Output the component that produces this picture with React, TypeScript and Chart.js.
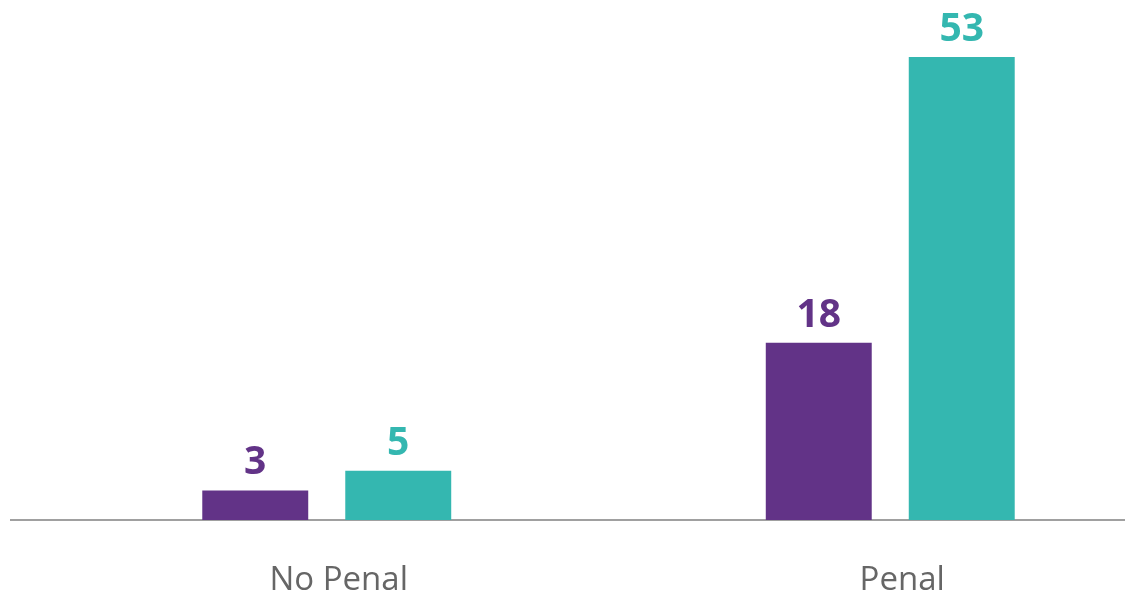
import React, { useEffect, useRef } from "react";
import { Chart, registerables } from "chart.js";

Chart.register(...registerables);

const categories = ["No Penal", "Penal"];
const seriesA = [3, 18];
const seriesB = [5, 53];
const colorA = "#623387";
const colorB = "#34b7b0";
const yMax = 47;

const valueLabels = {
  id: "valueLabels",
  afterDatasetsDraw(chart: any) {
    const { ctx, chartArea } = chart;
    ctx.save();
    ctx.font = "bold 39px 'Open Sans'";
    ctx.textAlign = "center";
    ctx.textBaseline = "alphabetic";
    chart.data.datasets.forEach((ds: any, di: number) => {
      const meta = chart.getDatasetMeta(di);
      meta.data.forEach((bar: any, i: number) => {
        const top = Math.max(bar.y, chartArea.top);
        ctx.fillStyle = ds.backgroundColor;
        ctx.fillText(String(ds.data[i]), bar.x, top - 16);
      });
    });
    ctx.restore();
  },
};

const baseLine = {
  id: "baseLine",
  beforeDatasetsDraw(chart: any) {
    const { ctx, chartArea, scales } = chart;
    const y = scales.y.getPixelForValue(0);
    ctx.save();
    ctx.strokeStyle = "#a0a0a0";
    ctx.lineWidth = 2;
    ctx.beginPath();
    ctx.moveTo(chartArea.left - 35, y);
    ctx.lineTo(chartArea.left + 1080, y);
    ctx.stroke();
    ctx.restore();
  },
};

const categoryLabels = {
  id: "categoryLabels",
  afterDraw(chart: any) {
    const { ctx, chartArea, scales } = chart;
    ctx.save();
    ctx.font = "33px 'Open Sans'";
    ctx.fillStyle = "#666666";
    ctx.textAlign = "center";
    ctx.textBaseline = "alphabetic";
    chart.data.labels.forEach((lab: string, i: number) => {
      ctx.fillText(lab, scales.x.getPixelForValue(i) + 12, chartArea.bottom + 70);
    });
    ctx.restore();
  },
};

export default function App() {
  const ref = useRef<HTMLCanvasElement>(null);
  useEffect(() => {
    if (!ref.current) return;
    const chart = new Chart(ref.current, {
      type: "bar",
      data: {
        labels: categories,
        datasets: [
          { label: "A", data: seriesA, backgroundColor: colorA },
          { label: "B", data: seriesB, backgroundColor: colorB },
        ],
      },
      options: {
        animation: false,
        responsive: true,
        maintainAspectRatio: false,
        layout: { padding: { left: 45, right: 0, top: 57, bottom: 74 } },
        plugins: { legend: { display: false }, tooltip: { enabled: false } },
        datasets: { bar: { categoryPercentage: 0.5075, barPercentage: 0.741 } },
        scales: {
          x: {
            grid: { display: false, drawTicks: false },
            border: { display: false },
            ticks: { display: false },
          },
          y: { display: false, min: 0, max: yMax },
        },
      },
      plugins: [baseLine, valueLabels, categoryLabels],
    });
    return () => chart.destroy();
  }, []);
  return (
    <div style={{ position: "fixed", left: 0, top: 0, width: 1172, height: 594 }}>
      <canvas ref={ref} />
    </div>
  );
}
